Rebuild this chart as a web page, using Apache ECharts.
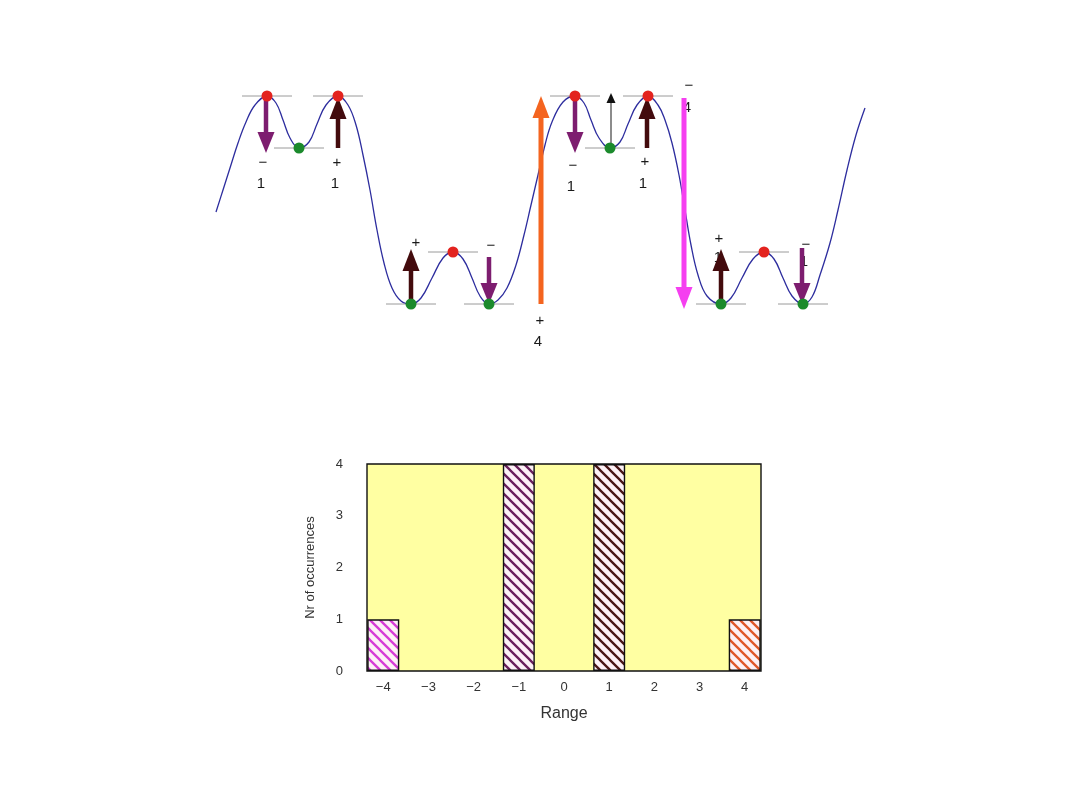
<!DOCTYPE html>
<html><head><meta charset="utf-8">
<script src="https://cdn.jsdelivr.net/npm/echarts@6/dist/echarts.min.js"></script>
<style>html,body{margin:0;padding:0;background:#fff;}#c{width:1080px;height:810px;}</style>
</head><body><div id="c"></div>
<script>
// ---------- Top diagram (potential landscape), coordinates ----------
const curveX = [216,223,230,238,246,255,267,276,283,290,299,309,317,326,338,348,356,363,370,377,384,392,401,411,421,432,443,453,463,472,480,489,498,507,516,524,531,538,545,552,563,575,584,591,599,610,620,628,637,648,658,665,672,679,685,691,698,707,721,731,742,753,764,774,783,792,803,812,820,830,838,847,856,865];
const curveY = [212,190,168,143,122,105,96,103,120,138,148,142,124,105,96,105,125,155,190,230,263,288,301,304,298,278,258,252,259,278,296,304,300,288,265,235,205,175,145,122,102,96,103,120,138,148,142,124,105,96,105,120,143,175,210,245,275,296,304,298,278,259,252,259,278,296,304,297,275,243,210,170,135,108];
const maxX = [267,338,453,575,648,764];
const maxY = [96,96,252,96,96,252];
const minX = [299,411,489,610,721,803];
const minY = [148,304,304,148,304,304];
const arrowX    = [266,338,411,489,541,575,611,647,684,721,802];
const arrowFrom = [99,148,304,257,304,99,148,148,98,304,248];
const arrowTo   = [153,97,249,304,96,153,93,97,309,249,304];
const arrowKind = ['down','up','up','down','plus4','down','thin','up','minus4','up','down'];
const labelX    = [263,261,337,335,416,491,540,538,573,571,645,643,689,687,719,718,806,804];
const labelY    = [163,184,163,184,243,246,321,342,166,187,162,184,86,108,239,258,245,262];
const labelText = ['−','1','+','1','+','−','+','4','−','1','+','1','−','4','+','1','−','1'];

// ---------- Histogram ----------
const rangeValues = [-4,-1,1,4];
const occurrences = [1,4,4,1];
const barKind = ['minus4','down','up','plus4'];
const xTickValues = [-4,-3,-2,-1,0,1,2,3,4];
const yTickValues = [0,1,2,3,4];

// ---------- styles ----------
const arrowStyle = {
  down:   {color:'#7d1d6f', head:'#7d1d6f', shaft:4.5, hw:17, hl:21},
  up:     {color:'#430b0d', head:'#430b0d', shaft:4.5, hw:17, hl:22},
  plus4:  {color:'#f4641f', head:'#f4641f', shaft:5, hw:17, hl:22},
  minus4: {color:'#f53ff0', head:'#f53ff0', shaft:5, hw:17, hl:22},
  thin:   {color:'#666666', head:'#111111', shaft:1.5, hw:9, hl:10}
};
const hatchColor = {minus4:'#d63cd6', down:'#6a1f5c', up:'#4a1616', plus4:'#e0572a'};

function hatch(color){
  const dpr = window.devicePixelRatio || 1;
  const s = 10, cv = document.createElement('canvas');
  cv.width = Math.round(s*dpr); cv.height = Math.round(s*dpr);
  const g = cv.getContext('2d');
  g.scale(dpr, dpr);
  g.fillStyle = '#fdf1f6'; g.fillRect(0,0,s,s);
  g.strokeStyle = color; g.lineWidth = 2.3;
  g.beginPath();
  g.moveTo(-2,-2); g.lineTo(s+2,s+2);
  g.moveTo(-2,s-2); g.lineTo(2,s+2);
  g.moveTo(s-2,-2); g.lineTo(s+2,2);
  g.stroke();
  return cv;
}

const chart = echarts.init(document.getElementById('c'), null, {renderer:'canvas'});
const FONT = 'Liberation Sans, Arial, sans-serif';

const option = {
  backgroundColor:'#ffffff',
  animation:false,
  grid:[
    {left:0, top:0, width:1080, height:810, show:false},
    {left:367, top:464, width:394, height:207, show:true, backgroundColor:'#ffffa2', borderColor:'#111', borderWidth:1.4}
  ],
  xAxis:[
    {gridIndex:0, type:'value', min:0, max:1080, show:false},
    {gridIndex:1, type:'value', min:-4.36, max:4.36,
     axisLine:{show:false}, axisTick:{show:false}, splitLine:{show:false},
     axisLabel:{customValues:xTickValues, margin:10, color:'#333', fontSize:13, fontFamily:FONT,
                formatter:v=>String(v).replace('-','−')},
     name:'Range', nameLocation:'middle', nameGap:35,
     nameTextStyle:{fontSize:16, color:'#333', fontFamily:FONT}}
  ],
  yAxis:[
    {gridIndex:0, type:'value', min:0, max:810, inverse:true, show:false},
    {gridIndex:1, type:'value', min:0, max:4, interval:1,
     axisLine:{show:false}, axisTick:{show:false}, splitLine:{show:false},
     axisLabel:{customValues:yTickValues, margin:24, color:'#333', fontSize:13, fontFamily:FONT},
     name:'Nr of occurrences', nameLocation:'middle', nameGap:50, nameRotate:90,
     nameTextStyle:{fontSize:13, color:'#333', fontFamily:FONT}}
  ],
  series:[
    { // level lines at extrema
      type:'custom', xAxisIndex:0, yAxisIndex:0, z:1,
      data: maxX.map((x,i)=>[x,maxY[i]]).concat(minX.map((x,i)=>[x,minY[i]])),
      renderItem:(p,api)=>{
        const a = api.coord([api.value(0)-25, api.value(1)]);
        const b = api.coord([api.value(0)+25, api.value(1)]);
        return {type:'line', shape:{x1:a[0],y1:a[1],x2:b[0],y2:b[1]}, style:{stroke:'#9a9a9a', lineWidth:1}};
      }
    },
    { // potential curve
      type:'line', xAxisIndex:0, yAxisIndex:0, z:2,
      data: curveX.map((x,i)=>[x,curveY[i]]),
      smooth:0.4, showSymbol:false, silent:true,
      lineStyle:{color:'#2d2d9e', width:1.3}
    },
    { // labels
      type:'custom', xAxisIndex:0, yAxisIndex:0, z:3,
      data: labelX.map((x,i)=>[x,labelY[i]]),
      renderItem:(p,api)=>{
        const c = api.coord([api.value(0), api.value(1)]);
        return {type:'text', x:c[0], y:c[1], style:{text:labelText[p.dataIndex], fill:'#1a1a1a',
                font:'15px '+FONT, align:'center', verticalAlign:'middle'}};
      }
    },
    { // arrows
      type:'custom', xAxisIndex:0, yAxisIndex:0, z:4,
      data: arrowX.map((x,i)=>[x,arrowFrom[i],arrowTo[i]]),
      renderItem:(p,api)=>{
        const st = arrowStyle[arrowKind[p.dataIndex]];
        const t = api.coord([api.value(0), api.value(1)]);
        const h = api.coord([api.value(0), api.value(2)]);
        const dir = h[1] < t[1] ? -1 : 1;
        const baseY = h[1] - dir*st.hl;
        const y0 = Math.min(t[1], baseY), y1 = Math.max(t[1], baseY);
        return {type:'group', children:[
          {type:'rect', shape:{x:t[0]-st.shaft/2, y:y0, width:st.shaft, height:y1-y0}, style:{fill:st.color}},
          {type:'polygon', shape:{points:[[h[0],h[1]],[h[0]-st.hw/2,baseY],[h[0]+st.hw/2,baseY]]}, style:{fill:st.head}}
        ]};
      }
    },
    { // maxima
      type:'scatter', xAxisIndex:0, yAxisIndex:0, z:5,
      data: maxX.map((x,i)=>[x,maxY[i]]), symbolSize:11,
      itemStyle:{color:'#e3231f', opacity:1}
    },
    { // minima
      type:'scatter', xAxisIndex:0, yAxisIndex:0, z:5,
      data: minX.map((x,i)=>[x,minY[i]]), symbolSize:11,
      itemStyle:{color:'#1b8a2c', opacity:1}
    },
    { // histogram
      type:'bar', xAxisIndex:1, yAxisIndex:1, barWidth:32,
      data: rangeValues.map((v,i)=>({value:[v,occurrences[i]],
        itemStyle:{color:{image:hatch(hatchColor[barKind[i]]), repeat:'repeat'}, borderColor:'#111', borderWidth:1.4}}))
    }
  ]
};
chart.setOption(option);
</script>
</body></html>
